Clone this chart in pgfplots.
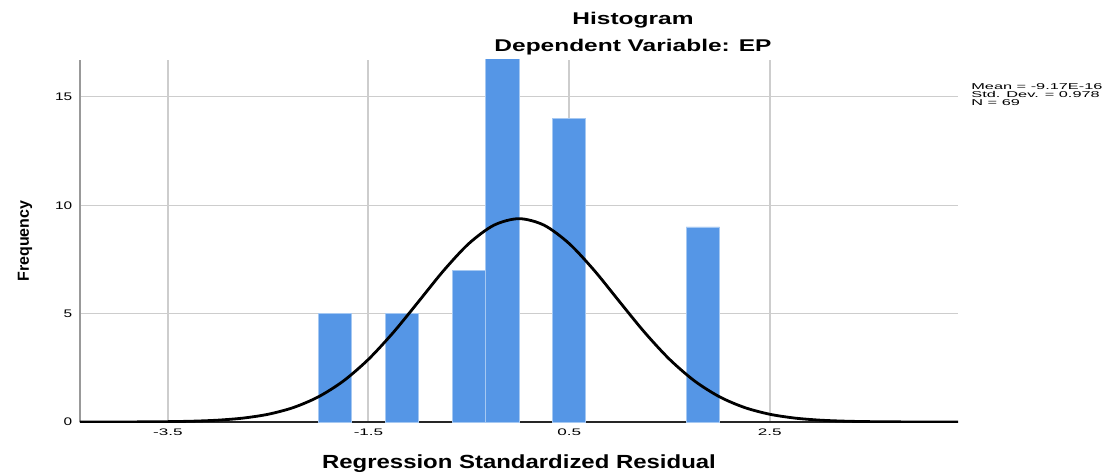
\documentclass[border=0pt]{standalone}
\usepackage{fontspec}
\setmainfont{Liberation Sans}
\usepackage{pgfplots}
\pgfplotsset{compat=1.18}
\definecolor{barblue}{RGB}{85,150,230}
\definecolor{baredge}{RGB}{165,200,242}
\definecolor{gridgray}{RGB}{205,205,205}
\begin{document}
\begin{tikzpicture}
\begin{axis}[
  at={(0,0)}, anchor=south west,
  scale only axis, width=878bp, height=362bp,
  xmin=-4.375, xmax=4.375, ymin=0, ymax=16.7,
  axis x line=bottom, axis y line=left,
  axis line style={-},
  x axis line style={black!85, line width=2bp},
  y axis line style={black!40, line width=2bp},
  xtick={-3.5,-1.5,0.5,2.5},
  xticklabels={-3.5,-1.5,0.5,2.5},
  ytick={0,5,10,15},
  yticklabels={0,5,10,15},
  major tick length=0pt,
  xmajorgrids, ymajorgrids,
  x grid style={gridgray, line width=2bp},
  y grid style={gridgray, line width=1.3bp},
  xticklabel style={font=\fontsize{9.5bp}{11bp}\selectfont, xscale=1.8, yshift=-3bp},
  yticklabel style={font=\fontsize{11bp}{12bp}\selectfont, xscale=1.4, xshift=-2bp},
  xlabel={Regression Standardized Residual},
  xlabel style={font=\bfseries\fontsize{19bp}{21bp}\selectfont, xscale=1.26,
    at={(axis description cs:0.5,-0.1298)}, anchor=base},
  ylabel={Frequency},
  ylabel style={font=\bfseries\fontsize{16bp}{18bp}\selectfont,
    at={(axis description cs:-0.0581,0.5)}, anchor=base},
  clip=true,
]
\addplot[ybar, bar width=0.3333, bar shift=0pt, fill=barblue, draw=baredge, line width=0.8bp]
  coordinates {(-1.8333,5) (-1.1667,5) (-0.5,7) (-0.1667,29) (0.5,14) (1.8333,9)};
\addplot[black, line width=2.8bp, smooth] coordinates {
 (-4.375,0.0003) (-4.0,0.002) (-3.75,0.006) (-3.5,0.016) (-3.25,0.038) (-3.0,0.085)
 (-2.75,0.180) (-2.5,0.357) (-2.25,0.665) (-2.0,1.159) (-1.75,1.892) (-1.5,2.893)
 (-1.25,4.145) (-1.0,5.561) (-0.75,6.991) (-0.5,8.231) (-0.25,9.079) (0,9.38)
 (0.25,9.079) (0.5,8.231) (0.75,6.991) (1.0,5.561) (1.25,4.145) (1.5,2.893)
 (1.75,1.892) (2.0,1.159) (2.25,0.665) (2.5,0.357) (2.75,0.180) (3.0,0.085)
 (3.25,0.038) (3.5,0.016) (3.75,0.006) (4.0,0.002) (4.375,0.0003)};
\end{axis}
\node[anchor=base, font=\bfseries\fontsize{17bp}{19bp}\selectfont, xscale=1.44] at (553bp,397bp) {Histogram};
\node[anchor=base, font=\bfseries\fontsize{17bp}{19bp}\selectfont, xscale=1.44] at (553bp,370bp) {Dependent Variable: EP};
\node[anchor=base west, inner sep=0pt, font=\fontsize{8.5bp}{9bp}\selectfont, xscale=1.92] at (891bp,332.5bp) {Mean = -9.17E-16};
\node[anchor=base west, inner sep=0pt, font=\fontsize{8.5bp}{9bp}\selectfont, xscale=1.92] at (891bp,324.5bp) {Std. Dev. = 0.978};
\node[anchor=base west, inner sep=0pt, font=\fontsize{8.5bp}{9bp}\selectfont, xscale=1.92] at (891bp,316.5bp) {N = 69};
\pgfresetboundingbox
\path (-80bp,-52bp) rectangle (1023bp,422bp);
\end{tikzpicture}
\end{document}
